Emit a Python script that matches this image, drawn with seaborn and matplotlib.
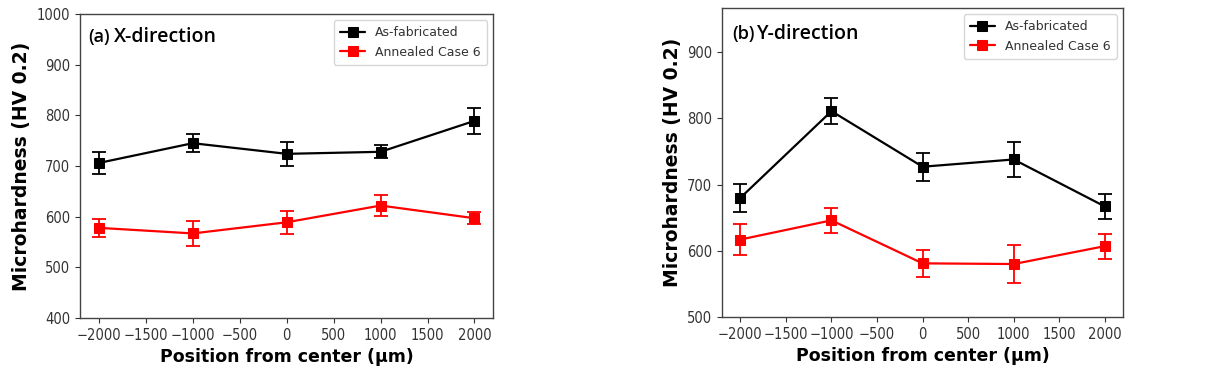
import pandas as pd
import seaborn as sns
import matplotlib.pyplot as plt

# values
positions = [-2000, -1000, 0, 1000, 2000]
series_names = ['As-fabricated', 'Annealed Case 6']

x_asfab = [706, 745, 724, 728, 789]
x_asfab_err = [22, 18, 24, 13, 25]
x_anneal = [578, 567, 589, 622, 597]
x_anneal_err = [18, 24, 23, 20, 12]

y_asfab = [680, 811, 727, 738, 667]
y_asfab_err = [21, 20, 21, 27, 19]
y_anneal = [617, 646, 581, 580, 607]
y_anneal_err = [23, 19, 20, 28, 19]

panel_titles = [('(a)', 'X-direction'), ('(b)', 'Y-direction')]
colors = {'As-fabricated': 'black', 'Annealed Case 6': 'red'}


def make_df(asfab, asfab_err, anneal, anneal_err):
    rows = []
    for name, vals, errs in [(series_names[0], asfab, asfab_err),
                             (series_names[1], anneal, anneal_err)]:
        for p, v, e in zip(positions, vals, errs):
            rows.append({'pos': p, 'hv': v, 'err': e, 'series': name})
    return pd.DataFrame(rows)


panels = [make_df(x_asfab, x_asfab_err, x_anneal, x_anneal_err),
          make_df(y_asfab, y_asfab_err, y_anneal, y_anneal_err)]

sns.set_style("ticks")
plt.rcParams['font.family'] = ['DejaVu Sans']
plt.rcParams['text.color'] = 'black'
plt.rcParams['axes.labelcolor'] = 'black'

fig = plt.figure(figsize=(12.24, 3.76), dpi=100)
ax1 = fig.add_axes([0.0654, 0.154, 0.3376, 0.809])
ax2 = fig.add_axes([0.590, 0.157, 0.3275, 0.822])

ylims = [(400, 1000), (500, 967)]
title_pos = [(0.02, 0.925, 0.083), (0.025, 0.915, 0.088)]

for ax, df, ylim, (tag, title), (tx, ty, tx2) in zip([ax1, ax2], panels, ylims,
                                                     panel_titles, title_pos):
    for name in series_names:
        sub = df[df['series'] == name]
        ax.errorbar(sub['pos'], sub['hv'], yerr=sub['err'], fmt='none',
                    ecolor=colors[name], elinewidth=1.3, capsize=5, capthick=1.3)
    sns.lineplot(data=df, x='pos', y='hv', hue='series', palette=colors,
                 hue_order=series_names, marker='s', markersize=7,
                 markeredgecolor=None, linewidth=1.6, ax=ax)
    ax.set_xlim(-2200, 2200)
    ax.set_ylim(*ylim)
    ax.set_xticks(range(-2000, 2001, 500))
    ax.set_xlabel('Position from center (\u03bcm)', fontsize=12.5, fontweight='bold')
    ax.set_ylabel('Microhardness (HV 0.2)', fontsize=13.5, fontweight='bold')
    ax.tick_params(colors='#333333', labelcolor='#333333')
    for lab in ax.get_xticklabels() + ax.get_yticklabels():
        lab.set_fontsize(10.5)
        lab.set_fontstretch('condensed')
    for s in ax.spines.values():
        s.set_color('#444444')
        s.set_linewidth(1.0)
    leg = ax.legend(loc='upper right', fontsize=9, frameon=True, fancybox=True,
                    borderpad=0.5, handlelength=2.0)
    leg.get_frame().set_edgecolor('#cccccc')
    for t in leg.get_texts():
        t.set_color('#333333')
    ax.text(tx, ty, tag, transform=ax.transAxes, fontsize=13, fontweight='semibold',
            family=['Open Sans', 'DejaVu Sans'], va='center', color='black')
    ax.text(tx2, ty, title, transform=ax.transAxes, fontsize=14,
            fontweight='semibold', family=['Open Sans', 'DejaVu Sans'], va='center',
            color='black')

fig.savefig('out.png', dpi=100)
